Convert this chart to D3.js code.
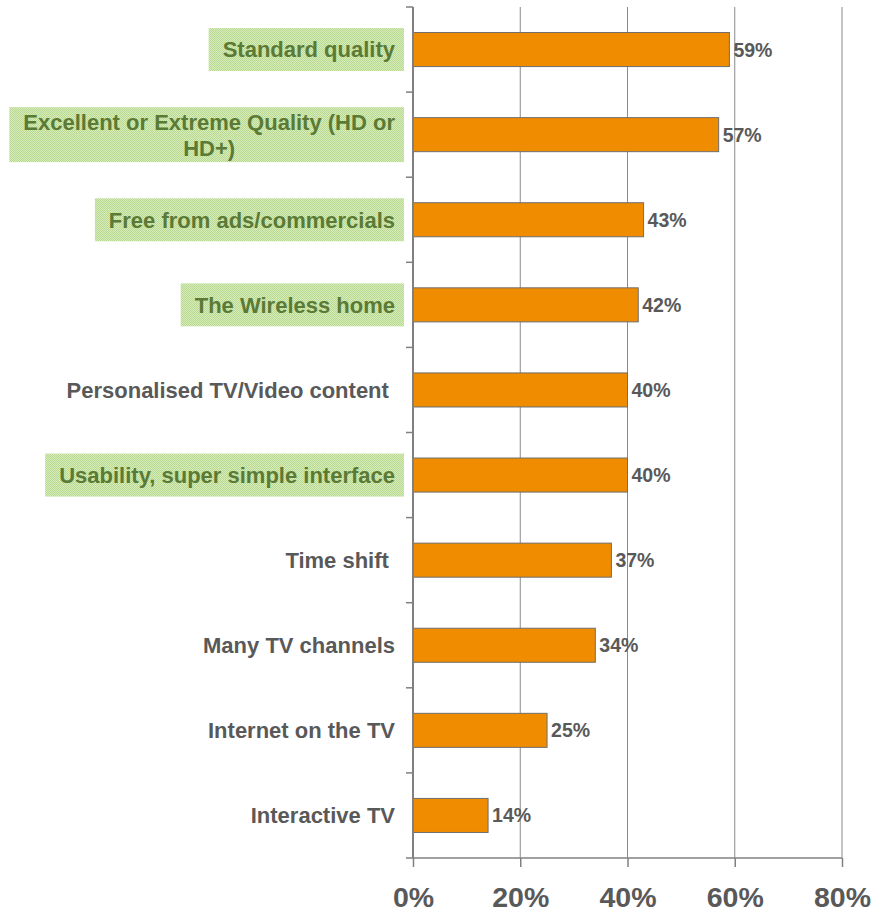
<!DOCTYPE html>
<html>
<head>
<meta charset="utf-8">
<script src="https://cdn.jsdelivr.net/npm/d3@7"></script>
<style>
  body { margin: 0; background: #fff; }
  svg { display: block; font-family: "Liberation Sans", Arial, sans-serif; }
</style>
</head>
<body>
<div id="contenidor"></div>
<script>
// data
const categories = [
  "Standard quality",
  "Excellent or Extreme Quality (HD or|HD+)",
  "Free from ads/commercials",
  "The Wireless home",
  "Personalised TV/Video content ",
  "Usability, super simple interface",
  "Time shift ",
  "Many TV channels",
  "Internet on the TV",
  "Interactive TV"
];
const values = [0.59, 0.57, 0.43, 0.42, 0.40, 0.40, 0.37, 0.34, 0.25, 0.14];
const highlighted = [true, true, true, true, false, true, false, false, false, false];
const tickValues = [0, 0.2, 0.4, 0.6, 0.8];

const width = 883;
const height = 915;
const plotLeft = 413, plotRight = 842, plotTop = 7, plotBottom = 858;
const fontFam = "'Liberation Sans', Arial, sans-serif";

const svg = d3.select("#contenidor").append("svg")
  .attr("width", width)
  .attr("height", height)
  .attr("font-family", fontFam);

// dotted green fill behind the highlighted labels
const pat = svg.append("defs").append("pattern")
  .attr("id", "dots")
  .attr("width", 2).attr("height", 2)
  .attr("patternUnits", "userSpaceOnUse");
pat.append("rect").attr("width", 2).attr("height", 2).attr("fill", "#d6ecb9");
pat.append("rect").attr("width", 1).attr("height", 1).attr("fill", "#b9d993");
pat.append("rect").attr("x", 1).attr("y", 1).attr("width", 1).attr("height", 1).attr("fill", "#b9d993");

const x = d3.scaleLinear().domain([0, 0.8]).range([plotLeft, plotRight]);
const y = d3.scaleBand().domain(d3.range(categories.length))
  .range([plotTop, plotBottom])
  .paddingInner(0.6).paddingOuter(0.3);
const step = y.step();

// gridlines
svg.append("g").selectAll("line")
  .data(tickValues.slice(1))
  .join("line")
  .attr("x1", d => x(d)).attr("x2", d => x(d))
  .attr("y1", plotTop).attr("y2", plotBottom)
  .attr("stroke", "#8a8a8a").attr("stroke-width", 1);

// bars
svg.append("g").selectAll("rect")
  .data(values)
  .join("rect")
  .attr("x", x(0))
  .attr("y", (d, i) => y(i))
  .attr("width", d => x(d) - x(0))
  .attr("height", y.bandwidth())
  .attr("fill", "#f08c00")
  .attr("stroke", "#6e6e6e")
  .attr("stroke-width", 1);

// value labels
svg.append("g").selectAll("text")
  .data(values)
  .join("text")
  .attr("x", d => x(d) + 4)
  .attr("y", (d, i) => y(i) + y.bandwidth() / 2)
  .attr("dy", "0.36em")
  .attr("font-size", "19.5px")
  .attr("font-weight", "bold")
  .attr("fill", "#595959")
  .text(d => d3.format(".0%")(d));

// y axis with ticks at band boundaries
const yAxis = svg.append("g");
yAxis.append("line")
  .attr("x1", plotLeft).attr("x2", plotLeft)
  .attr("y1", plotTop).attr("y2", plotBottom)
  .attr("stroke", "#808080").attr("stroke-width", 2);
yAxis.selectAll("line.tk")
  .data(d3.range(categories.length))
  .join("line")
  .attr("class", "tk")
  .attr("x1", plotLeft - 7).attr("x2", plotLeft)
  .attr("y1", i => plotTop + i * step).attr("y2", i => plotTop + i * step)
  .attr("stroke", "#808080").attr("stroke-width", 1.5);

// x axis
const xAxis = svg.append("g").attr("transform", `translate(0,${plotBottom})`)
  .call(d3.axisBottom(x).tickValues(tickValues).tickFormat(d3.format(".0%")).tickSize(9).tickPadding(20));
xAxis.select(".domain").attr("d", `M${plotLeft - 7},0H${plotRight}`).attr("stroke", "#808080").attr("stroke-width", 1.5);
xAxis.selectAll(".tick line").attr("stroke", "#808080").attr("stroke-width", 1.5);
xAxis.selectAll(".tick text")
  .attr("font-size", "28.5px")
  .attr("font-weight", "bold")
  .attr("font-family", fontFam)
  .attr("fill", "#595959");

// category labels
const labelRight = 395;
const lineGap = 26;
const labels = svg.append("g");
categories.forEach(function(name, i) {
  const lines = name.split("|");
  const cy = y(i) + y.bandwidth() / 2;
  const g = labels.append("g");
  const bg = g.append("rect");
  const txt = g.append("text")
    .attr("font-size", "22px")
    .attr("font-weight", "bold")
    .attr("fill", highlighted[i] ? "#5b7a35" : "#595959")
    .style("white-space", "pre");
  lines.forEach(function(line, k) {
    txt.append("tspan")
      .attr("y", cy + (k - (lines.length - 1) / 2) * lineGap)
      .attr("dy", "0.36em")
      .text(line);
  });
  // right align the block, centre the lines inside it
  const w = d3.max(txt.selectAll("tspan").nodes(), n => n.getComputedTextLength());
  const mid = labelRight - w / 2;
  txt.attr("text-anchor", "middle").selectAll("tspan").attr("x", mid);
  if (highlighted[i]) {
    const boxH = lines.length === 1 ? 43 : 55;
    const boxX = labelRight - w - 14;
    bg.attr("x", boxX)
      .attr("y", cy - boxH / 2)
      .attr("width", 404 - boxX)
      .attr("height", boxH)
      .attr("fill", "url(#dots)");
  } else {
    bg.remove();
  }
});
</script>
</body>
</html>
